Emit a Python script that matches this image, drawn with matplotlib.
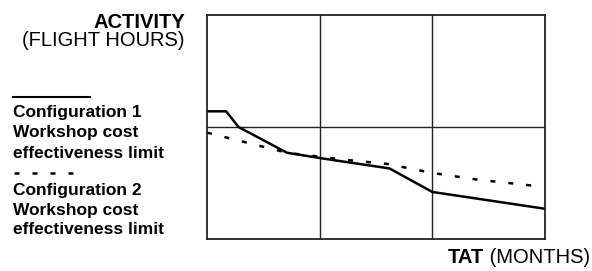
import matplotlib
matplotlib.use("Agg")
import matplotlib.pyplot as plt

plt.rcParams["font.family"] = ["Liberation Sans", "DejaVu Sans"]

# TAT (x, in grid columns) vs activity (y, in grid rows)
config1_x = [0.0, 0.17, 0.28, 0.71, 1.02, 1.62, 2.0, 3.0]
config1_y = [1.14, 1.14, 1.0, 0.77, 0.72, 0.63, 0.42, 0.27]
config2_x = [0.0, 0.71, 1.2, 1.6, 2.0, 2.4, 2.95]
config2_y = [0.95, 0.77, 0.71, 0.67, 0.59, 0.53, 0.47]

DASH = (0, (2.0, 5.2))

W, H = 592, 271
fig = plt.figure(figsize=(W / 100, H / 100), dpi=100)
ax = fig.add_axes([207 / W, 1 - 239 / H, 338 / W, 224 / H])
ax.set_xlim(0, 3)
ax.set_ylim(0, 2)
ax.set_xticks([])
ax.set_yticks([])
for s in ax.spines.values():
    s.set_linewidth(1.3)
    s.set_color("#222222")
for xv in (1, 2):
    ax.axvline(xv, color="#222222", lw=1.0)
ax.axhline(1, color="#222222", lw=1.0)

ax.plot(config1_x, config1_y, color="black", lw=1.8, solid_joinstyle="round")
ax.plot(config2_x, config2_y, color="black", lw=1.8, linestyle=DASH)

# y-axis title
fig.text(185 / W, 1 - 28 / H, "ACTIVITY", ha="right", va="baseline", fontsize=14.5, fontweight="bold")
fig.text(185 / W, 1 - 46 / H, "(FLIGHT HOURS)", ha="right", va="baseline", fontsize=14.5)

# legend block
fig.add_artist(plt.Line2D([13 / W, 90 / W], [1 - 97 / H] * 2, color="black", lw=1.5))
fig.add_artist(plt.Line2D([14 / W, 78 / W], [1 - 173 / H] * 2, color="black", lw=1.8, linestyle=DASH))
for y, t in [(113, "Configuration 1"), (133, "Workshop cost"), (153, "effectiveness limit"),
             (190, "Configuration 2"), (210, "Workshop cost"), (230, "effectiveness limit")]:
    fig.text(13 / W, 1 - y / H, t, ha="left", va="center", fontsize=12.5, fontweight="bold")

# x-axis title with mixed weight
months = fig.text(590 / W, 1 - 263 / H, " (MONTHS)", ha="right", va="baseline", fontsize=14.5)
fig.canvas.draw()
bb = months.get_window_extent()
fig.text(bb.x0 / W, 1 - 263 / H, "TAT", ha="right", va="baseline", fontsize=14.5, fontweight="bold")

fig.savefig("out.png", dpi=100)
